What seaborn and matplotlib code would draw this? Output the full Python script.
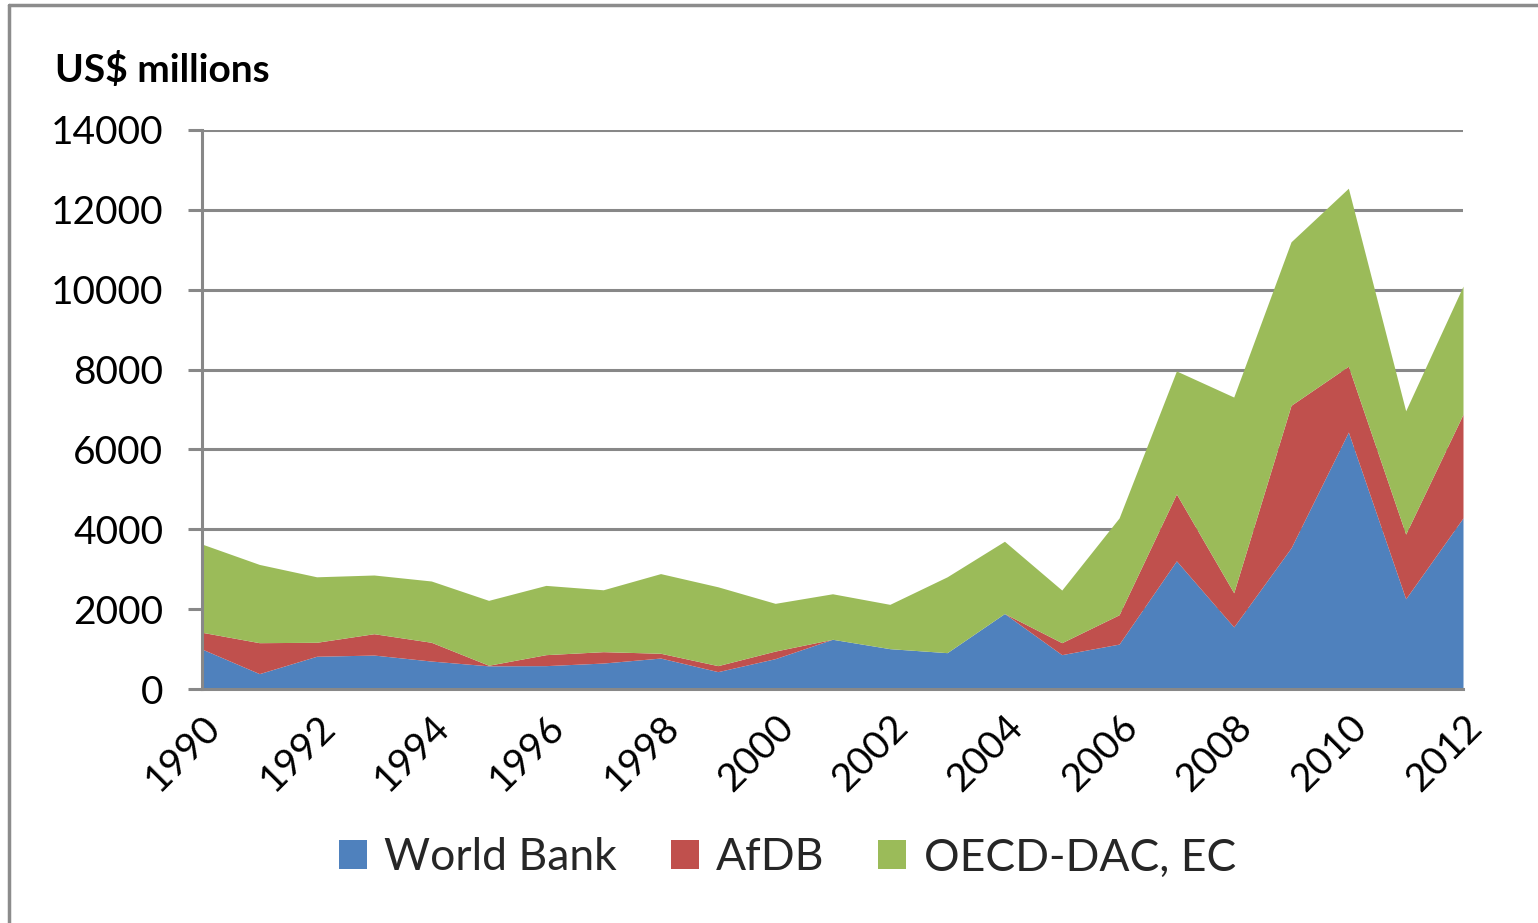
import matplotlib
matplotlib.use("Agg")
import matplotlib.pyplot as plt
import seaborn as sns
import numpy as np
from matplotlib.lines import Line2D

years = list(range(1990, 2013))
world_bank = [1000, 385, 820, 850, 700, 580, 585, 650, 775, 435, 760, 1245, 1010,
              910, 1890, 860, 1125, 3210, 1555, 3535, 6435, 2260, 4285]
afdb = [420, 775, 350, 535, 470, 15, 275, 285, 120, 150, 190, 0, 0,
        0, 0, 300, 735, 1675, 855, 3570, 1650, 1620, 2595]
oecd_dac_ec = [2210, 1960, 1640, 1470, 1535, 1625, 1735, 1550, 1995, 1975, 1195, 1140, 1110,
               1900, 1810, 1318, 2424, 3081, 4902, 4095, 4457, 3088, 3210]
series_names = ["World Bank", "AfDB", "OECD-DAC, EC"]
x_tick_labels = [str(y) for y in range(1990, 2013, 2)]
y_ticks = list(range(0, 14001, 2000))

sns.set_theme(style="white")
plt.rcParams['font.family'] = ['Lato', 'DejaVu Sans']

palette = sns.color_palette(["#4F81BD", "#C0504D", "#9BBB59"])

W, H = 1538, 923
fig = plt.figure(figsize=(W / 100, H / 100), dpi=100)
fig.patch.set_facecolor("white")

left, right, top, bottom = 202, 1463, 130, 689
ax = fig.add_axes([left / W, 1 - bottom / H, (right - left) / W, (bottom - top) / H])

ax.stackplot(years, world_bank, afdb, oecd_dac_ec, colors=palette,
             labels=series_names, zorder=3, linewidth=0)

ax.set_xlim(1990, 2012)
ax.set_ylim(0, 14000)
ax.set_yticks(y_ticks)
ax.set_yticklabels([str(v) for v in y_ticks], fontsize=28, color="black")
ax.set_xticks(list(range(1990, 2013, 2)))
ax.set_xticklabels(x_tick_labels, fontsize=28, color="black", rotation=45,
                   ha="right", va="top", rotation_mode="anchor")
ax.tick_params(axis="y", length=10, width=2.2, color="#888888", pad=18, left=True)
ax.tick_params(axis="x", length=0, pad=14)

ax.grid(axis="y", color="#888888", linewidth=2.2, zorder=1)
ax.grid(axis="x", visible=False)
for s in ["top", "right"]:
    ax.spines[s].set_visible(False)
for s in ["left", "bottom"]:
    ax.spines[s].set_color("#888888")
    ax.spines[s].set_linewidth(2.2)
    ax.spines[s].set_zorder(4)
ax.set_facecolor("white")

fig.text(55 / W, 1 - 82 / H, "US$ millions", fontsize=28, fontweight="bold",
         ha="left", va="baseline", color="black")

handles, labels = ax.get_legend_handles_labels()
leg = fig.legend(handles, labels, loc="center", bbox_to_anchor=(0.512, 1 - 858 / H),
                 ncol=3, frameon=False, fontsize=32, handlelength=0.63, handleheight=0.63,
                 handletextpad=0.4, columnspacing=1.2)

# outer border
fig.add_artist(Line2D([9 / W, 1.0], [1 - 5 / H, 1 - 5 / H], color="#8c8c8c", linewidth=2.5,
                      transform=fig.transFigure))
fig.add_artist(Line2D([9 / W, 9 / W], [0, 1 - 5 / H], color="#8c8c8c", linewidth=2.5,
                      transform=fig.transFigure))

fig.savefig("out.png", dpi=100, facecolor="white")
